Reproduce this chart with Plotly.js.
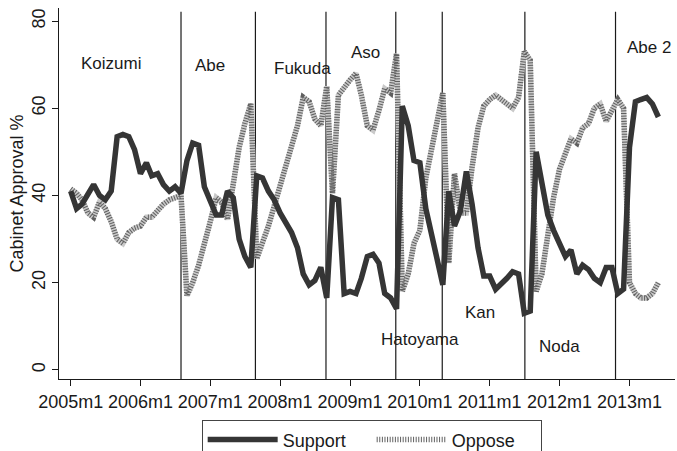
<!DOCTYPE html>
<html>
<head>
<meta charset="utf-8">
<script src="https://cdn.plot.ly/plotly-3.0.1.min.js"></script>
<style>
  html, body { margin: 0; padding: 0; background: #fff; }
  #chart { width: 677px; height: 451px; }
</style>
</head>
<body>
<div id="chart"></div>
<script>
// ---- Data (monthly, 2005m1 .. 2013m6) ----
const startYear = 2005;
const nMonths = 102;

const support = [
  41, 37, 38, 40.5, 42.5, 40, 39, 41, 53.5, 54, 53.5, 50.5,
  45, 47.5, 44.5, 45, 42.5, 41, 42, 40.5, 48, 52, 51.5, 42,
  39, 35.5, 35.5, 41, 39.5, 30, 26, 23.5, 44.5, 44, 41, 39,
  36, 33.5, 31.5, 28, 22, 19.5, 20.5, 23.5, 16.5, 39.5, 39, 17.5,
  18, 17.5, 21, 26, 26.5, 24.5, 17.5, 16.5, 14, 60.5, 56, 48,
  47.5, 37, 31.5, 25, 19.5, 41, 33, 36.5, 45.5, 38, 28, 21.5,
  21.5, 18.5, 19.5, 21, 22.5, 22, 13, 13.5, 50, 42, 35.5, 32,
  29, 26, 27.5, 22, 24, 23, 21, 20, 23.5, 23.5, 17.5, 18.5,
  51, 61.5, 62, 62.5, 61, 58
];

const oppose = [
  41.5, 40.5, 39, 36, 35, 38.5, 37, 34, 30, 29, 31.5, 32.5,
  33, 35, 35, 36.5, 38, 39, 39.5, 40, 17, 20, 24, 28.5,
  34, 39.5, 38.5, 34.5, 43, 51, 56.5, 61, 25.5, 29, 33, 37.5,
  42, 46.5, 51, 56, 62.5, 61.5, 57.5, 56, 65, 40.5, 63, 65,
  66.5, 68, 63, 56, 55, 59.5, 64.5, 63.5, 72.5, 18, 22, 29,
  32, 44, 50, 57, 63.5, 24.5, 45, 36, 36, 46.5, 55.5, 60.5,
  62, 63, 62, 61, 60, 62.5, 73, 71, 18, 22, 32, 39.5,
  46, 50, 53, 52, 55.5, 56.5, 60, 61, 57, 59.5, 62, 60,
  20, 17.5, 16.5, 16.5, 17.5, 20
];

const tickDates = ["2005-01-01","2006-01-01","2007-01-01","2008-01-01","2009-01-01",
                   "2010-01-01","2011-01-01","2012-01-01","2013-01-01"];
const tickLabels = ["2005m1","2006m1","2007m1","2008m1","2009m1",
                    "2010m1","2011m1","2012m1","2013m1"];
const yTicks = [0, 20, 40, 60, 80];

// Cabinet start lines and names
const pmStart = ["2006-08-01","2007-08-25","2008-08-28","2009-08-28","2010-04-28","2011-07-04","2012-10-20"];
const pmNames = ["Koizumi","Abe","Fukuda","Aso","Hatoyama","Kan","Noda","Abe 2"];
// label anchor positions (date, value) for each name
const pmLabelPos = [
  ["2005-08-01", 70.3], ["2007-01-01", 69.9], ["2008-04-28", 69.2], ["2009-03-25", 72.7],
  ["2010-01-01", 6.9], ["2010-11-12", 13.1], ["2012-01-01", 5.3], ["2013-04-12", 74.0]
];

// ---- Build ----
const months = [];
for (let i = 0; i < nMonths; i++) {
  const y = startYear + Math.floor(i / 12);
  const m = (i % 12) + 1;
  months.push(y + "-" + String(m).padStart(2, "0") + "-01");
}

const FONT = "Liberation Sans, Arial, Helvetica, sans-serif";

const traces = [
  { x: months, y: oppose, type: "scatter", mode: "lines", name: "Oppose",
    legendgroup: "opp", showlegend: false, hoverinfo: "skip",
    line: { color: "#c9c9c9", width: 5.5 } },
  { x: months, y: oppose, type: "scatter", mode: "lines", name: "Oppose",
    legendgroup: "opp",
    line: { color: "#5f5f5f", width: 5.5, dash: "1px,1.6px" } },
  { x: months, y: support, type: "scatter", mode: "lines", name: "Support",
    line: { color: "#353535", width: 5.5 } }
];

const shapes = pmStart.map(d => ({
  type: "line", xref: "x", yref: "paper", x0: d, x1: d, y0: 0, y1: 0.99,
  line: { color: "#1a1a1a", width: 1.2 }, layer: "below"
}));

const annotations = pmNames.map((n, i) => ({
  text: n, x: pmLabelPos[i][0], y: pmLabelPos[i][1], xref: "x", yref: "y",
  showarrow: false, xanchor: "center", yanchor: "middle",
  font: { family: FONT, size: 17, color: "#1a1a1a" }
}));

const layout = {
  width: 677, height: 451,
  margin: { l: 59, r: 2, t: 8, b: 72, autoexpand: false },
  paper_bgcolor: "#ffffff", plot_bgcolor: "#ffffff",
  font: { family: FONT, color: "#1a1a1a", size: 18 },
  showlegend: true,
  xaxis: {
    type: "date", automargin: false,
    range: ["2004-11-01", "2013-08-27"],
    tickvals: tickDates, ticktext: tickLabels,
    showline: true, linecolor: "#1a1a1a", linewidth: 1,
    ticks: "outside", ticklen: 6, tickcolor: "#1a1a1a",
    showgrid: false, zeroline: false,
    tickfont: { family: FONT, size: 18, color: "#1a1a1a" }
  },
  yaxis: {
    range: [-2.1, 83], automargin: false,
    tickvals: yTicks,
    showline: true, linecolor: "#1a1a1a", linewidth: 1,
    ticks: "outside", ticklen: 6, tickcolor: "#1a1a1a",
    showgrid: false, zeroline: false, tickangle: -90,
    tickfont: { family: FONT, size: 18, color: "#1a1a1a" },
    title: { text: "Cabinet Approval %", standoff: 0,
             font: { family: FONT, size: 18, color: "#1a1a1a" } }
  },
  legend: {
    orientation: "h", traceorder: "reversed",
    xref: "container", yref: "container",
    x: 0.549, xanchor: "center", y: 0.068, yanchor: "top",
    itemwidth: 70, entrywidth: 84,
    bordercolor: "#444", borderwidth: 1, bgcolor: "#fff",
    font: { family: FONT, size: 18, color: "#1a1a1a" }
  },
  shapes: shapes,
  annotations: annotations
};

Plotly.newPlot("chart", traces, layout, { displayModeBar: false, staticPlot: true });
</script>
</body>
</html>
